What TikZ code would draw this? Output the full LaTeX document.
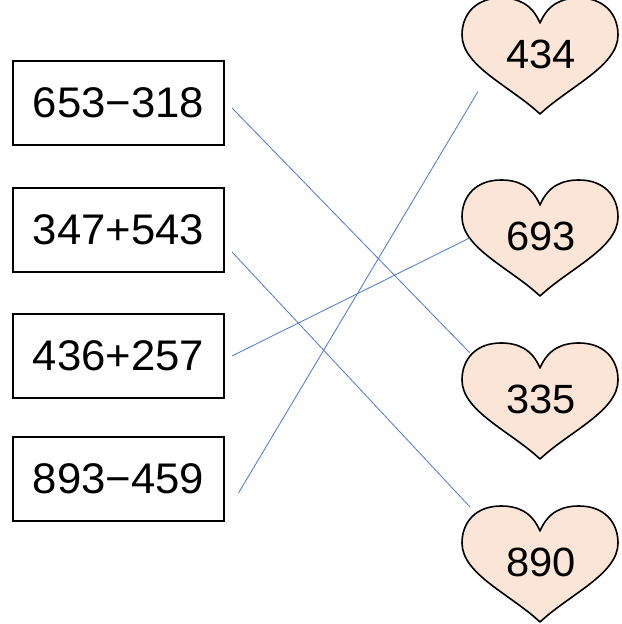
\documentclass[tikz,border=0pt]{standalone}
\usepackage{fontspec}
\setmainfont{Liberation Sans}[FakeStretch=1.02]
\begin{document}
\begin{tikzpicture}[x=1bp,y=-1bp,
  boxstyle/.style={draw=black,line width=1.8bp,minimum width=211bp,minimum height=84bp,inner sep=0pt,font=\fontsize{43}{50}\selectfont},
  heartline/.style={draw=black,line width=1.6bp,fill=heartfill,line join=round},
  heartlabel/.style={inner sep=0pt,font=\fontsize{41}{48}\selectfont},
  link/.style={draw=linkblue,line width=0.8bp},
  pics/heartshape/.style={code={
    \path[heartline] (0,25) .. controls (-8,6) and (-22,0) .. (-39,0)
      .. controls (-64,0) and (-78,16) .. (-78,37)
      .. controls (-78,68) and (-30,88) .. (0,116)
      .. controls (30,88) and (78,68) .. (78,37)
      .. controls (78,16) and (64,0) .. (39,0)
      .. controls (22,0) and (8,6) .. (0,25) -- cycle;
  }}]
\definecolor{heartfill}{HTML}{FBE5D6}
\definecolor{linkblue}{HTML}{4A78CC}
\useasboundingbox[fill=white] (0,0) rectangle (622,624);

% boxes
\node[boxstyle] (b1) at (118.5,103) {653−318};
\node[boxstyle] (b2) at (118.5,230) {347+543};
\node[boxstyle] (b3) at (118.5,356) {436+257};
\node[boxstyle] (b4) at (118.5,479) {893−459};

% hearts
\pic at (540,-2) {heartshape};
\pic at (540,180) {heartshape};
\pic at (540,343) {heartshape};
\pic at (540,506) {heartshape};
\node[heartlabel] (h1) at (541,54) {434};
\node[heartlabel] (h2) at (541,236) {693};
\node[heartlabel] (h3) at (541,399) {335};
\node[heartlabel] (h4) at (541,562) {890};

% connector ends
\coordinate (s1) at (232,108);
\coordinate (s2) at (232,252);
\coordinate (s3) at (232,356);
\coordinate (s4) at (238.5,493);
\coordinate (e1) at (478,91.5);
\coordinate (e2) at (469.5,238);
\coordinate (e3) at (469.5,352.5);
\coordinate (e4) at (470,507);

\draw[link] (s1) -- (e3);
\draw[link] (s2) -- (e4);
\draw[link] (s3) -- (e2);
\draw[link] (s4) -- (e1);
\end{tikzpicture}
\end{document}
